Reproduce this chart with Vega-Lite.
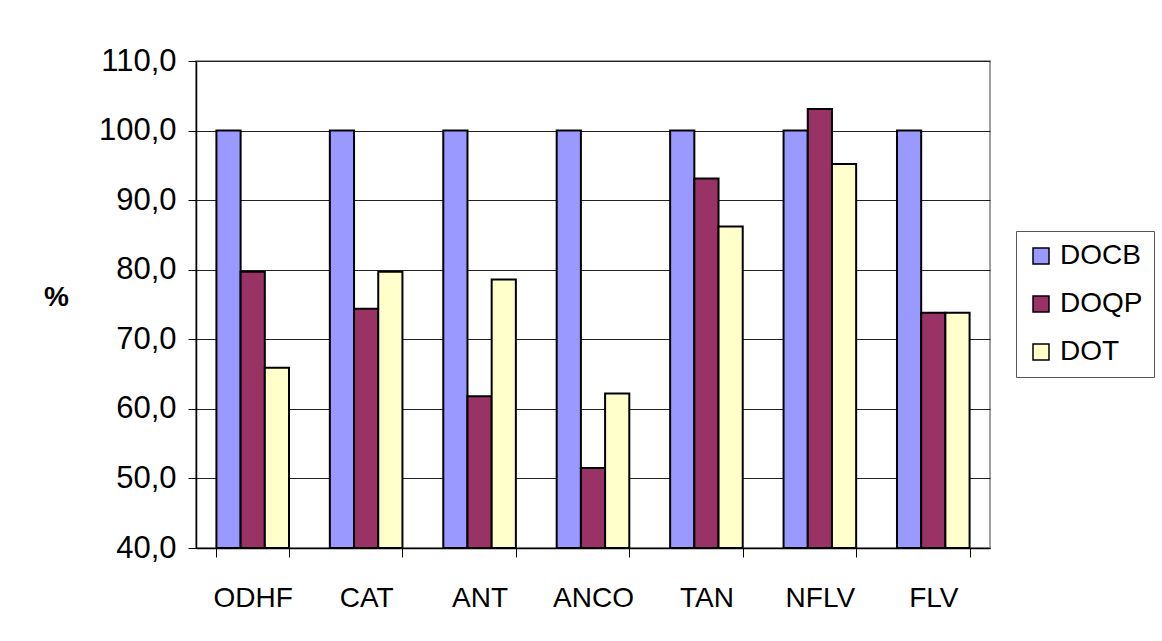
{
  "$schema": "https://vega.github.io/schema/vega-lite/v6.json",
  "width": 794,
  "height": 487,
  "autosize": {"type": "none"},
  "padding": {"left": 196, "top": 61, "right": 172, "bottom": 93},
  "background": "white",
  "config": {
    "font": "Liberation Sans",
    "view": {"stroke": "#808080", "strokeWidth": 1.5},
    "axis": {"labelFont": "Liberation Sans", "labelColor": "#000", "titleColor": "#000"}
  },
  "data": {
    "values": [
      {"site": "ODHF", "series": "DOCB", "pct": 100.0},
      {"site": "ODHF", "series": "DOQP", "pct": 79.7},
      {"site": "ODHF", "series": "DOT", "pct": 65.9},
      {"site": "CAT", "series": "DOCB", "pct": 100.0},
      {"site": "CAT", "series": "DOQP", "pct": 74.4},
      {"site": "CAT", "series": "DOT", "pct": 79.7},
      {"site": "ANT", "series": "DOCB", "pct": 100.0},
      {"site": "ANT", "series": "DOQP", "pct": 61.8},
      {"site": "ANT", "series": "DOT", "pct": 78.6},
      {"site": "ANCO", "series": "DOCB", "pct": 100.0},
      {"site": "ANCO", "series": "DOQP", "pct": 51.5},
      {"site": "ANCO", "series": "DOT", "pct": 62.2},
      {"site": "TAN", "series": "DOCB", "pct": 100.0},
      {"site": "TAN", "series": "DOQP", "pct": 93.1},
      {"site": "TAN", "series": "DOT", "pct": 86.2},
      {"site": "NFLV", "series": "DOCB", "pct": 100.0},
      {"site": "NFLV", "series": "DOQP", "pct": 103.1},
      {"site": "NFLV", "series": "DOT", "pct": 95.2},
      {"site": "FLV", "series": "DOCB", "pct": 100.0},
      {"site": "FLV", "series": "DOQP", "pct": 73.8},
      {"site": "FLV", "series": "DOT", "pct": 73.8}
    ]
  },
  "mark": {"type": "bar", "stroke": "#000", "strokeWidth": 2, "clip": true},
  "encoding": {
    "x": {
      "field": "site",
      "type": "nominal",
      "sort": ["ODHF", "CAT", "ANT", "ANCO", "TAN", "NFLV", "FLV"],
      "scale": {"paddingInner": 0.36, "paddingOuter": 0.18},
      "axis": {
        "orient": "bottom",
        "title": null,
        "labelAngle": 0,
        "labelFontSize": 28,
        "labelPadding": 27,
        "ticks": true,
        "tickBand": "extent",
        "tickSize": 9,
        "tickColor": "#000",
        "tickWidth": 1,
        "domain": true,
        "domainColor": "#000",
        "domainWidth": 1.5,
        "grid": false
      }
    },
    "xOffset": {
      "field": "series",
      "type": "nominal",
      "sort": ["DOCB", "DOQP", "DOT"],
      "scale": {"paddingInner": 0, "paddingOuter": 0}
    },
    "y": {
      "field": "pct",
      "type": "quantitative",
      "scale": {"domain": [40, 110], "zero": false, "nice": false},
      "axis": {
        "values": [40, 50, 60, 70, 80, 90, 100, 110],
        "labelExpr": "replace(format(datum.value, '.1f'), '.', ',')",
        "labelFontSize": 31,
        "labelPadding": 12,
        "tickSize": 8,
        "tickColor": "#000",
        "domainColor": "#000",
        "domainWidth": 1.5,
        "grid": true,
        "gridColor": "#222",
        "gridWidth": 1,
        "title": "%",
        "titleAngle": 0,
        "titleFontSize": 28,
        "titleFontWeight": "bold",
        "titleAlign": "center",
        "titleBaseline": "middle",
        "titleX": -140,
        "titleY": 236
      }
    },
    "y2": {"datum": 40},
    "fill": {
      "field": "series",
      "type": "nominal",
      "sort": ["DOCB", "DOQP", "DOT"],
      "scale": {"domain": ["DOCB", "DOQP", "DOT"], "range": ["#9999FF", "#993366", "#FFFFCC"]},
      "legend": {
        "title": null,
        "orient": "none",
        "legendX": 820,
        "legendY": 170,
        "direction": "vertical",
        "padding": 11,
        "strokeColor": "#555",
        "symbolType": "square",
        "symbolSize": 256,
        "symbolStrokeColor": "#000",
        "symbolStrokeWidth": 1.5,
        "symbolOffset": 0,
        "labelFontSize": 28,
        "labelOffset": 5,
        "labelColor": "#000",
        "rowPadding": 20
      }
    }
  }
}
